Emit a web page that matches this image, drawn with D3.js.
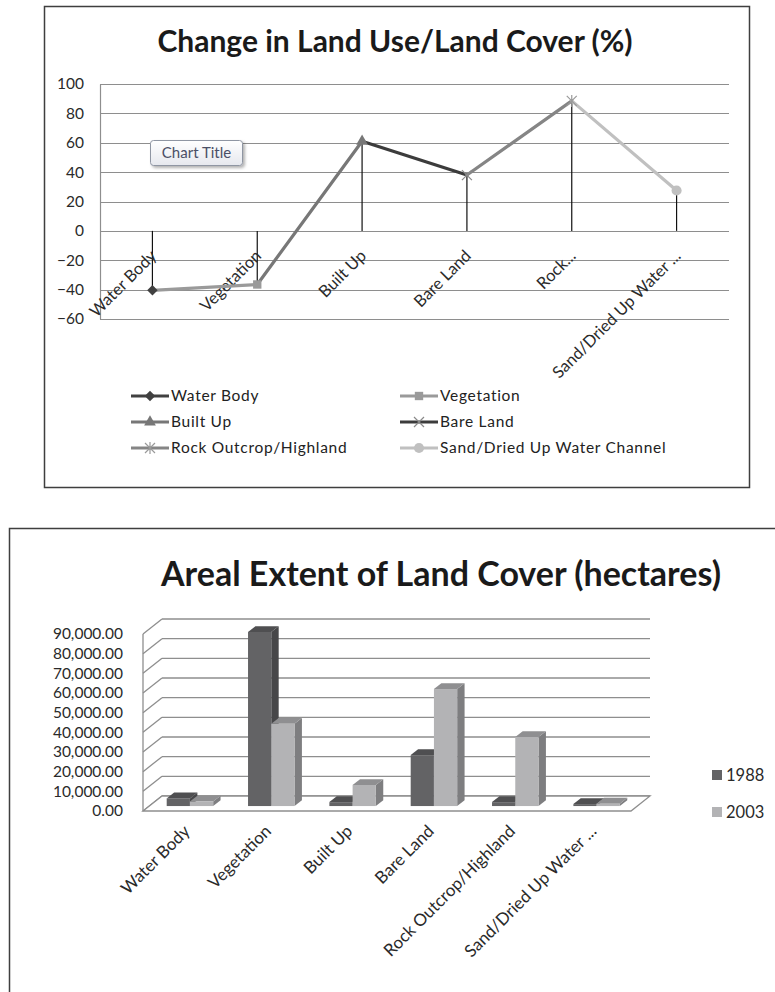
<!DOCTYPE html>
<html>
<head>
<meta charset="utf-8">
<script src="https://cdn.jsdelivr.net/npm/d3@7"></script>
<style>
  html, body { margin: 0; padding: 0; background: #fff; }
  svg { display: block; }
  text { font-family: Lato, "Noto Sans", sans-serif; }
</style>
</head>
<body>
<svg id="chart" width="775" height="992"></svg>
<script>
// ---- data ----
const categories = ["Water Body", "Vegetation", "Built Up", "Bare Land", "Rock Outcrop/Highland", "Sand/Dried Up Water Channel"];
const lineAxisLabels = ["Water Body", "Vegetation", "Built Up", "Bare Land", "Rock...", "Sand/Dried Up Water ..."];
const changePct = [-40.5, -36.5, 61, 38, 88.5, 27.5];
const changeTicks = [100, 80, 60, 40, 20, 0, -20, -40, -60];

const years = ["1988", "2003"];
const area1988 = [3900, 88500, 2000, 25900, 2000, 1000];
const area2003 = [2300, 41800, 10700, 59500, 35100, 1200];
const areaTicks = [0, 10000, 20000, 30000, 40000, 50000, 60000, 70000, 80000, 90000];
const barAxisLabels = ["Water Body", "Vegetation", "Built Up", "Bare Land", "Rock Outcrop/Highland", "Sand/Dried Up Water ..."];

// ---- styling ----
const pointColors = ["#404040", "#9a9a9a", "#777777", "#3c3c3c", "#858585", "#c0c0c0"];
const markerTypes = ["diamond", "square", "triangle", "x", "star", "circle"];
const gridColor = "#8e8e8e";
const textColor = "#2a2a2a";

const svg = d3.select("#chart");

function drawMarker(g, type, x, y, color) {
  const sym = {
    diamond: d3.symbolDiamond2, square: d3.symbolSquare, triangle: d3.symbolTriangle,
    circle: d3.symbolCircle
  };
  if (type === "x") {
    g.append("path").attr("d", `M${x-5},${y-5}L${x+5},${y+5}M${x-5},${y+5}L${x+5},${y-5}`)
      .attr("stroke", "#8a8a8a").attr("stroke-width", 1.2).attr("fill", "none");
  } else if (type === "star") {
    g.append("path").attr("d", `M${x-5},${y-5}L${x+5},${y+5}M${x-5},${y+5}L${x+5},${y-5}M${x},${y-6}L${x},${y+6}`)
      .attr("stroke", "#9a9a9a").attr("stroke-width", 1.2).attr("fill", "none");
  } else {
    const size = { diamond: 70, square: 70, triangle: 60, circle: 80 }[type];
    g.append("path").attr("d", d3.symbol(sym[type], size)())
      .attr("transform", `translate(${x},${y})`).attr("fill", color);
  }
}

// ================= Line chart: change in land use =================
(function () {
  const g = svg.append("g");
  g.append("rect").attr("x", 44.5).attr("y", 6.5).attr("width", 705).attr("height", 481)
    .attr("fill", "#fff").attr("stroke", "#3f3f3f").attr("stroke-width", 1.5);

  g.append("text").attr("x", 395).attr("y", 52).attr("text-anchor", "middle")
    .attr("font-size", 30).attr("font-weight", 700).attr("fill", "#1a1a1a")
    .text("Change in Land Use/Land Cover (%)");

  const x = d3.scaleBand().domain(categories).range([100, 729]);
  const y = d3.scaleLinear().domain([-60, 100]).range([319, 84]);
  const cx = d => x(d) + x.bandwidth() / 2;

  // horizontal gridlines
  g.append("g").selectAll("line").data(changeTicks).join("line")
    .attr("x1", 100).attr("x2", 729)
    .attr("y1", d => Math.round(y(d)) + 0.5).attr("y2", d => Math.round(y(d)) + 0.5)
    .attr("stroke", gridColor).attr("stroke-width", 1.2);

  // value axis
  const yAxis = d3.axisLeft(y).tickValues(changeTicks).tickSize(0).tickPadding(16);
  const ya = g.append("g").attr("transform", "translate(100,0)").call(yAxis);
  ya.select(".domain").attr("stroke", gridColor).attr("stroke-width", 1.2);
  ya.selectAll("text").attr("font-size", 15.5).attr("fill", textColor)
    .attr("font-family", "Lato, sans-serif");

  // drop lines to zero
  g.append("g").selectAll("line").data(categories).join("line")
    .attr("x1", d => cx(d)).attr("x2", d => cx(d))
    .attr("y1", y(0)).attr("y2", (d, i) => y(changePct[i]))
    .attr("stroke", "#111").attr("stroke-width", 1.2);

  // category labels (rotated)
  g.append("g").selectAll("text").data(categories).join("text")
    .attr("transform", d => `translate(${cx(d) + 1},${y(0) + 22}) rotate(-45)`)
    .attr("text-anchor", "end").attr("dy", "0.35em")
    .attr("font-size", 16.5).attr("fill", textColor)
    .text((d, i) => lineAxisLabels[i]);

  // line segments, each segment coloured by the point it reaches
  const pts = categories.map((c, i) => [cx(c), y(changePct[i])]);
  const segs = d3.pairs(pts).map((p, i) => ({ p, color: pointColors[i + 1] }));
  g.append("g").selectAll("path").data(segs).join("path")
    .attr("d", s => d3.line()(s.p))
    .attr("stroke", s => s.color).attr("stroke-width", 3.2)
    .attr("stroke-linecap", "round").attr("fill", "none");

  const mg = g.append("g");
  pts.forEach((p, i) => drawMarker(mg, markerTypes[i], p[0], p[1], pointColors[i]));

  // legend
  const lg = g.append("g");
  const legendPos = [
    [131, 396], [400, 396], [131, 422], [400, 422], [131, 448], [400, 448]
  ];
  categories.forEach((c, i) => {
    const [lx, ly] = legendPos[i];
    lg.append("line").attr("x1", lx).attr("x2", lx + 38).attr("y1", ly).attr("y2", ly)
      .attr("stroke", pointColors[i]).attr("stroke-width", 3);
    drawMarker(lg, markerTypes[i], lx + 19, ly, pointColors[i]);
    lg.append("text").attr("x", lx + 40).attr("y", ly).attr("dy", "0.35em")
      .attr("font-size", 15.5).attr("fill", "#222").attr("letter-spacing", 0.7).text(c);
  });

  // floating "Chart Title" tag
  const defs = svg.append("defs");
  const grad = defs.append("linearGradient").attr("id", "tagGrad").attr("x1", 0).attr("x2", 0).attr("y1", 0).attr("y2", 1);
  grad.append("stop").attr("offset", "0%").attr("stop-color", "#ffffff");
  grad.append("stop").attr("offset", "100%").attr("stop-color", "#e6e8ee");
  const sh = defs.append("filter").attr("id", "tagShadow").attr("x", "-20%").attr("y", "-20%").attr("width", "150%").attr("height", "160%");
  sh.append("feDropShadow").attr("dx", 2).attr("dy", 2).attr("stdDeviation", 1.5).attr("flood-color", "#000").attr("flood-opacity", 0.3);
  const tag = g.append("g");
  tag.append("rect").attr("x", 150.5).attr("y", 140.5).attr("width", 92).attr("height", 25).attr("rx", 3)
    .attr("fill", "url(#tagGrad)").attr("stroke", "#8f96a3").attr("filter", "url(#tagShadow)");
  tag.append("text").attr("x", 196.5).attr("y", 153).attr("dy", "0.35em").attr("text-anchor", "middle")
    .attr("font-family", "'Open Sans', sans-serif").attr("font-size", 15).attr("fill", "#4a4f66")
    .text("Chart Title");
})();

// ================= 3D column chart: areal extent =================
(function () {
  const g = svg.append("g");
  g.append("rect").attr("x", 9.5).attr("y", 528.5).attr("width", 800).attr("height", 500)
    .attr("fill", "#fff").attr("stroke", "#3f3f3f").attr("stroke-width", 1.5);

  g.append("text").attr("x", 441).attr("y", 586).attr("text-anchor", "middle")
    .attr("font-size", 34).attr("font-weight", 700).attr("fill", "#1a1a1a")
    .text("Areal Extent of Land Cover (hectares)");

  const depthX = 19, depthY = 15;           // floor depth offset
  const f0 = 0.33, f1 = 0.72;                // bar front/back depth fractions
  const x = d3.scaleBand().domain(categories).range([143, 631]);
  const xs = d3.scaleBand().domain(years).range([0, x.bandwidth()]).paddingInner(0).paddingOuter(0.75);
  const y = d3.scaleLinear().domain([0, 90000]).range([811, 634]);

  // left side wall: front axis + diagonals, back wall gridlines
  const wall = g.append("g").attr("stroke", gridColor).attr("stroke-width", 1.3).attr("fill", "none");
  wall.append("line").attr("x1", 143).attr("x2", 143).attr("y1", y(0)).attr("y2", y(90000));
  wall.selectAll(".diag").data(areaTicks).join("line").attr("class", "diag")
    .attr("x1", 143).attr("y1", d => y(d)).attr("x2", 143 + depthX).attr("y2", d => y(d) - depthY);
  wall.selectAll(".grid").data(areaTicks).join("line").attr("class", "grid")
    .attr("x1", 143 + depthX).attr("x2", 631 + depthX)
    .attr("y1", d => y(d) - depthY).attr("y2", d => y(d) - depthY);
  // floor outline
  wall.append("path").attr("fill", "#fff")
    .attr("d", `M143,${y(0)}L631,${y(0)}L${631 + depthX},${y(0) - depthY}L${143 + depthX},${y(0) - depthY}Z`);

  // value labels
  const yAxis = d3.axisLeft(y).tickValues(areaTicks).tickFormat(d3.format(",.2f")).tickSize(0).tickPadding(20);
  const ya = g.append("g").attr("transform", "translate(143,0)").call(yAxis);
  ya.select(".domain").remove();
  ya.selectAll("text").attr("font-size", 15.5).attr("fill", textColor).attr("font-family", "Lato, sans-serif");

  // bars
  const faces = {
    "1988": { front: "#636365", side: "#474749", top: "#4f4f51" },
    "2003": { front: "#b3b3b5", side: "#7e7e80", top: "#8f8f91" }
  };
  const series = { "1988": area1988, "2003": area2003 };
  const ddx = (f1 - f0) * depthX, ddy = (f1 - f0) * depthY;
  const bars = g.append("g");
  categories.forEach((c, i) => {
    years.forEach(yr => {
      const v = series[yr][i];
      const x0 = x(c) + xs(yr) + f0 * depthX;
      const x1 = x0 + xs.bandwidth();
      const yb = y(0) - f0 * depthY;
      const yt = y(v) - f0 * depthY;
      const col = faces[yr];
      bars.append("path").attr("fill", col.side)
        .attr("d", `M${x1},${yt}L${x1 + ddx},${yt - ddy}L${x1 + ddx},${yb - ddy}L${x1},${yb}Z`);
      bars.append("path").attr("fill", col.top)
        .attr("d", `M${x0},${yt}L${x1},${yt}L${x1 + ddx},${yt - ddy}L${x0 + ddx},${yt - ddy}Z`);
      bars.append("rect").attr("x", x0).attr("y", yt).attr("width", x1 - x0).attr("height", yb - yt)
        .attr("fill", col.front);
    });
  });

  // category labels
  g.append("g").selectAll("text").data(categories).join("text")
    .attr("transform", d => `translate(${x(d) + x.bandwidth() / 2 + 3},${y(0) + 17}) rotate(-45)`)
    .attr("text-anchor", "end").attr("dy", "0.35em")
    .attr("font-size", 17).attr("fill", textColor)
    .text((d, i) => barAxisLabels[i]);

  // legend
  const lg = g.append("g");
  years.forEach((yr, k) => {
    const ly = 775 + k * 37;
    lg.append("rect").attr("x", 712).attr("y", ly - 5).attr("width", 10).attr("height", 10)
      .attr("fill", faces[yr].front);
    lg.append("text").attr("x", 726).attr("y", ly).attr("dy", "0.35em")
      .attr("font-size", 16.5).attr("fill", textColor).text(yr);
  });
})();
</script>
</body>
</html>
